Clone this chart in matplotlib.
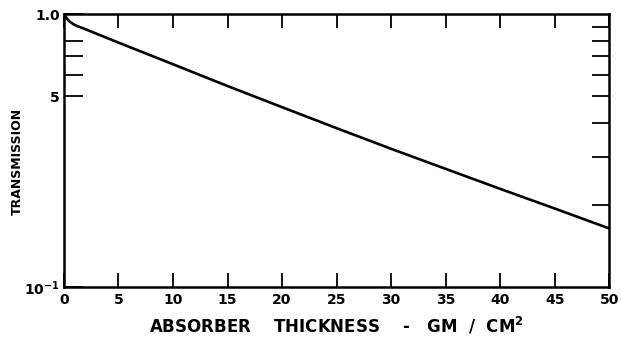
import matplotlib.pyplot as plt
from matplotlib.ticker import FixedLocator, NullFormatter

# absorber thickness (gm/cm^2) and transmission
thickness = [0, 0.25, 0.5, 1, 2, 5, 10, 15, 20, 25, 30, 35, 40, 45, 50]
transmission = [1.0, 0.965, 0.94, 0.911, 0.879, 0.786, 0.655, 0.545,
                0.456, 0.382, 0.321, 0.271, 0.229, 0.194, 0.164]

x_ticks = [0, 5, 10, 15, 20, 25, 30, 35, 40, 45, 50]
x_labels = ['0', '5', '10', '15', '20', '25', '30', '35', '40', '45', '50']
y_ticks = [0.1, 0.5, 1.0]
y_labels = ['10$^{-1}$', '5', '1.0']
y_minor_left = [0.6, 0.7, 0.8]
y_minor_right = [0.2, 0.3, 0.4, 0.5, 0.6, 0.7, 0.8, 0.9]

plt.rcParams['font.family'] = ['DejaVu Sans']
plt.rcParams['font.weight'] = 'bold'

fig = plt.figure(figsize=(6.21, 3.43), dpi=100)
ax = fig.add_axes([0.103, 0.163, 0.878, 0.796])

ax.plot(thickness, transmission, color='black', linewidth=1.9)

ax.set_yscale('log')
ax.set_xlim(0, 50)
ax.set_ylim(0.1, 1.0)

ax.xaxis.set_major_locator(FixedLocator(x_ticks))
ax.set_xticklabels(x_labels)
ax.yaxis.set_major_locator(FixedLocator(y_ticks))
ax.set_yticklabels(y_labels)
ax.yaxis.set_minor_locator(FixedLocator(y_minor_left))
ax.yaxis.set_minor_formatter(NullFormatter())

ax.tick_params(axis='x', which='major', direction='in', length=10, width=1.3,
               top=True, labelsize=10, pad=4)
ax.tick_params(axis='y', which='both', direction='in', length=14, width=1.3,
               right=False, labelsize=10, pad=3)

for s in ax.spines.values():
    s.set_linewidth(1.8)

# right side has its own set of ticks
ax2 = ax.twinx()
ax2.set_yscale('log')
ax2.set_ylim(0.1, 1.0)
ax2.yaxis.set_major_locator(FixedLocator([]))
ax2.yaxis.set_minor_locator(FixedLocator(y_minor_right))
ax2.yaxis.set_minor_formatter(NullFormatter())
ax2.tick_params(axis='y', which='minor', direction='in', length=12, width=1.3)
for s in ax2.spines.values():
    s.set_visible(False)

ax.set_xlabel('ABSORBER    THICKNESS    -   GM  /  CM$^{\\mathbf{2}}$',
              fontsize=12, fontweight='bold', labelpad=6)
ax.set_ylabel('TRANSMISSION', fontsize=9, fontweight='bold')
ax.yaxis.set_label_coords(-0.074, 0.46)

fig.savefig('out.png', dpi=100)
